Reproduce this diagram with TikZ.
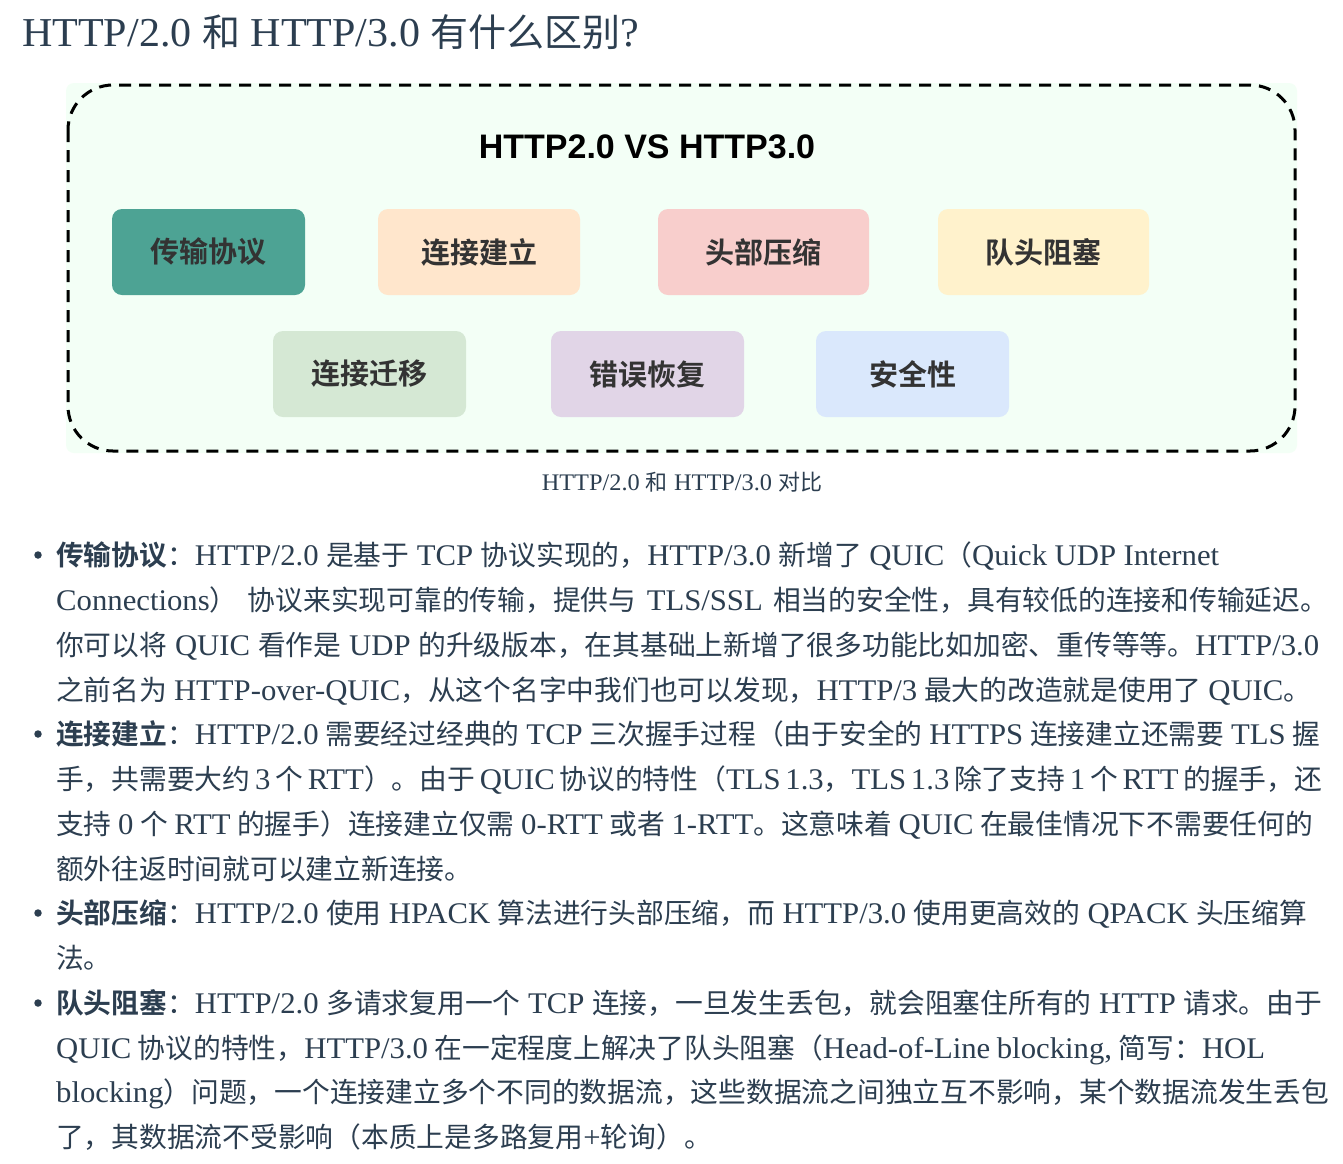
\documentclass[tikz,border=0pt]{standalone}
\usepackage{fontspec}
\setmainfont{Liberation Serif}[Scale=1.08, FakeStretch=1.025]
\newfontfamily\cjkfont{Noto Sans CJK SC}[BoldFont={Noto Sans CJK SC Bold}]
\newfontfamily\headfont{Liberation Sans}
\usetikzlibrary{positioning}

% switch to the CJK font for Chinese characters and punctuation
\XeTeXinterchartokenstate=1
\newXeTeXintercharclass\cjkclass
\newcount\cjkchar
\def\setcjkrange#1#2{\cjkchar=#1
  \loop\XeTeXcharclass\cjkchar=\cjkclass
  \ifnum\cjkchar<#2 \advance\cjkchar by 1 \repeat}
\setcjkrange{"3000}{"303F}
\setcjkrange{"4E00}{"9FFF}
\setcjkrange{"FF00}{"FFEF}
\XeTeXinterchartoks 0 \cjkclass = {\cjkfont}
\XeTeXinterchartoks 4095 \cjkclass = {\cjkfont}
\XeTeXinterchartoks \cjkclass 0 = {\rmfamily}
\XeTeXinterchartoks \cjkclass 4095 = {\rmfamily}

% a line of text set to a given width
\newcommand\fitline[2]{\hbox to #1pt{\spaceskip=0.25em plus 1em minus 0.2em\relax #2}}

\definecolor{textc}{HTML}{2C3E50}
\definecolor{boxtext}{HTML}{333333}
\definecolor{panel}{HTML}{F3FFF6}
\definecolor{teal}{HTML}{4DA394}
\definecolor{peach}{HTML}{FFE6CC}
\definecolor{pink}{HTML}{F8CECC}
\definecolor{sand}{HTML}{FFF2CC}
\definecolor{mint}{HTML}{D5E8D4}
\definecolor{lilac}{HTML}{E1D5E7}
\definecolor{sky}{HTML}{DAE8FC}

\begin{document}
\begin{tikzpicture}[x=1pt,y=-1pt]

\tikzset{
  feature/.style={
    rounded corners=10pt,
    minimum width=#1,
    minimum height=86pt,
    inner sep=0pt,
    text=boxtext,
    font=\fontsize{29}{29}\selectfont\bfseries
  },
  feature/.default=193pt,
  line/.style={
    anchor=base west,
    inner sep=0pt,
    text=textc,
    font=\fontsize{27.75}{27.75}\selectfont
  },
  dot/.style={circle, fill=textc, inner sep=0pt, minimum size=7.5pt}
}

\useasboundingbox[fill=white] (0,0) rectangle (1343,1163);

% title
\node[anchor=base west, inner sep=0pt, text=textc,
  font=\fontsize{38}{38}\selectfont] (title) at (22,46)
  {HTTP/2.0 和 HTTP/3.0 有什么区别?};

% panel
\fill[panel, rounded corners=8pt] (66,83) rectangle (1297,453);
\draw[line width=3pt, dash pattern=on 12pt off 8pt, rounded corners=45pt]
  (68,85) rectangle (1295,451);

\node[font=\headfont\fontsize{34}{34}\selectfont\bfseries] (head) at (647,147)
  {HTTP2.0 VS HTTP3.0};

\node[feature, fill=teal] (transport) at (208.5,252) {传输协议};
\node[feature=202pt, fill=peach] (setup) at (479,252) {连接建立};
\node[feature=211pt, fill=pink] (header) at (763.5,252) {头部压缩};
\node[feature=211pt, fill=sand] (hol) at (1043.5,252) {队头阻塞};
\node[feature, fill=mint] (migrate) at (369.5,374) {连接迁移};
\node[feature, fill=lilac] (recover) at (647.5,374) {错误恢复};
\node[feature, fill=sky] (secure) at (912.5,374) {安全性};

% caption
\node[anchor=base, inner sep=0pt, text=textc,
  font=\fontsize{22}{22}\selectfont] (caption) at (682,490)
  {HTTP/2.0 和 HTTP/3.0 对比};

% list
\node[dot] (b1) at (38,555) {};
\node[dot] (b2) at (38,734) {};
\node[dot] (b3) at (38,913) {};
\node[dot] (b4) at (38,1003) {};

\node[line] (l1) at (56,565) {\fitline{1163}{\textbf{传输协议}：HTTP/2.0 是基于 TCP 协议实现的，HTTP/3.0 新增了 QUIC（Quick UDP Internet}};
\node[line] (l2) at (56,610) {\fitline{1272}{Connections） 协议来实现可靠的传输，提供与 TLS/SSL 相当的安全性，具有较低的连接和传输延迟。}};
\node[line] (l3) at (56,655) {\fitline{1263}{你可以将 QUIC 看作是 UDP 的升级版本，在其基础上新增了很多功能比如加密、重传等等。HTTP/3.0}};
\node[line] (l4) at (56,700) {\fitline{1255}{之前名为 HTTP-over-QUIC，从这个名字中我们也可以发现，HTTP/3 最大的改造就是使用了 QUIC。}};
\node[line] (l5) at (56,744) {\fitline{1264}{\textbf{连接建立}：HTTP/2.0 需要经过经典的 TCP 三次握手过程（由于安全的 HTTPS 连接建立还需要 TLS 握}};
\node[line] (l6) at (56,789) {\fitline{1266}{手，共需要大约 3 个 RTT）。由于 QUIC 协议的特性（TLS 1.3，TLS 1.3 除了支持 1 个 RTT 的握手，还}};
\node[line] (l7) at (56,834) {\fitline{1257}{支持 0 个 RTT 的握手）连接建立仅需 0-RTT 或者 1-RTT。这意味着 QUIC 在最佳情况下不需要任何的}};
\node[line] (l8) at (56,879) {额外往返时间就可以建立新连接。};
\node[line] (l9) at (56,923) {\fitline{1251}{\textbf{头部压缩}：HTTP/2.0 使用 HPACK 算法进行头部压缩，而 HTTP/3.0 使用更高效的 QPACK 头压缩算}};
\node[line] (l10) at (56,968) {法。};
\node[line] (l11) at (56,1013) {\fitline{1266}{\textbf{队头阻塞}：HTTP/2.0 多请求复用一个 TCP 连接，一旦发生丢包，就会阻塞住所有的 HTTP 请求。由于}};
\node[line] (l12) at (56,1058) {\fitline{1209}{QUIC 协议的特性，HTTP/3.0 在一定程度上解决了队头阻塞（Head-of-Line blocking, 简写：HOL}};
\node[line] (l13) at (56,1102) {blocking）问题，一个连接建立多个不同的数据流，这些数据流之间独立互不影响，某个数据流发生丢包};
\node[line] (l14) at (56,1147) {了，其数据流不受影响（本质上是多路复用+轮询）。};

\end{tikzpicture}
\end{document}
